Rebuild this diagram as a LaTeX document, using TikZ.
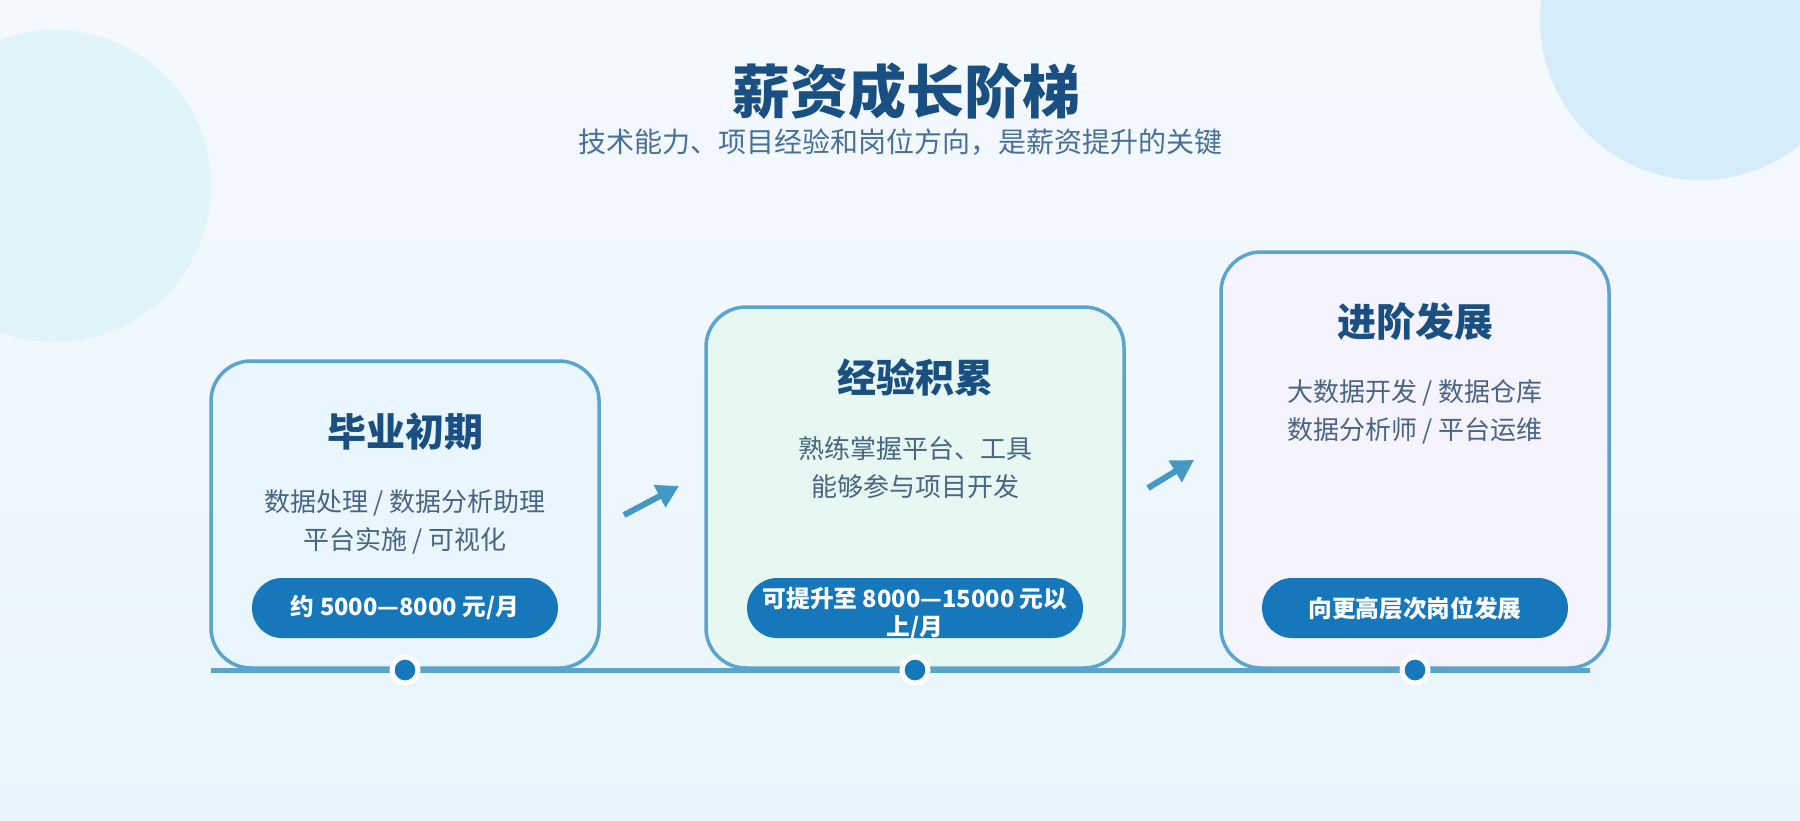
\documentclass[tikz,border=0pt]{standalone}
\usepackage{fontspec}
\setmainfont{Noto Sans CJK SC}
\usetikzlibrary{arrows.meta}
\definecolor{bgA}{HTML}{F5F9FE}
\definecolor{bgB}{HTML}{E9F5FC}
\definecolor{circA}{HTML}{E0F4FA}
\definecolor{circB}{HTML}{D6EDF9}
\definecolor{borderC}{HTML}{5BA4CB}
\definecolor{titleC}{HTML}{1A4F82}
\definecolor{descC}{HTML}{4A6483}
\definecolor{subC}{HTML}{46709A}
\definecolor{pillC}{HTML}{1677BA}
\definecolor{arrowC}{HTML}{4399C6}
\definecolor{fillA}{HTML}{EAF6FD}
\definecolor{fillB}{HTML}{E6F8F1}
\definecolor{fillC}{HTML}{F5F3FD}
\tikzset{
  card/.style={draw=borderC, line width=3.5pt, rounded corners=40pt, inner sep=0pt},
  cardtitle/.style={text=titleC, font=\fontsize{39}{45}\selectfont\bfseries, inner sep=0pt},
  desc/.style={text=descC, font=\fontsize{26}{38}\selectfont, align=center, inner sep=0pt},
  pill/.style={fill=pillC, rounded corners=30pt, minimum height=60pt, inner sep=0pt},
  pilltext/.style={text=white, font=\fontsize{23.7}{28}\selectfont\bfseries, align=center, inner sep=0pt},
  dot/.style={circle, fill=pillC, draw=white, line width=5pt, minimum size=26pt, inner sep=0pt},
  steparrow/.style={draw=arrowC, line width=6pt, -{Triangle[length=22pt,width=24pt]}},
}
\begin{document}
\begin{tikzpicture}[x=1pt,y=-1pt]
\useasboundingbox (0,0) rectangle (1800,820);
\shade[top color=bgA, bottom color=bgB] (0,0) rectangle (1800,820);
\fill[circA] (55,186) circle (156);
\fill[circB] (1700,20) circle (160);

% header
\node[text=titleC, font=\fontsize{58}{66}\selectfont\bfseries, inner sep=0pt] (title) at (906,91) {薪资成长阶梯};
\node[text=subC, font=\fontsize{28}{33}\selectfont, inner sep=0pt] (subtitle) at (900,142) {技术能力、项目经验和岗位方向，是薪资提升的关键};

% cards
\node[card, fill=fillA, minimum width=388pt, minimum height=307pt] (c1) at (405,514.5) {};
\node[card, fill=fillB, minimum width=418pt, minimum height=361pt] (c2) at (915,487.5) {};
\node[card, fill=fillC, minimum width=388pt, minimum height=416pt] (c3) at (1415,460) {};

% card 1
\node[cardtitle] (t1) at (405,432) {毕业初期};
\node[desc] (d1) at (405,522) {数据处理 / 数据分析助理\\平台实施 / 可视化};
\node[pill, minimum width=306pt] (p1) at (405,608) {};
\node[pilltext] (pt1) at (405,608) {约 5000—8000 元/月};

% card 2
\node[cardtitle] (t2) at (915,377) {经验积累};
\node[desc] (d2) at (915,468) {熟练掌握平台、工具\\能够参与项目开发};
\node[pill, minimum width=336pt] (p2) at (915,608) {};
\begin{scope}
\clip[rounded corners=30pt] (p2.south west) rectangle (p2.north east);
\node[pilltext] (pt2) at (915,614) {可提升至 8000—15000 元以\\上/月};
\end{scope}

% card 3
\node[cardtitle] (t3) at (1415,322) {进阶发展};
\node[desc] (d3) at (1415,412) {大数据开发 / 数据仓库\\数据分析师 / 平台运维};
\node[pill, minimum width=306pt] (p3) at (1415,608) {};
\node[pilltext] (pt3) at (1415,608) {向更高层次岗位发展};

% timeline
\coordinate (tl0) at (211,670);
\coordinate (tl1) at (1590,670);
\draw[borderC, line width=5pt] (tl0) -- (tl1);
\node[dot] (k1) at (405,670) {};
\node[dot] (k2) at (915,670) {};
\node[dot] (k3) at (1415,670) {};

% arrows
\coordinate (a1s) at (624,515);
\coordinate (a1e) at (679,486);
\coordinate (a2s) at (1148,488);
\coordinate (a2e) at (1194,460);
\draw[steparrow] (a1s) -- (a1e);
\draw[steparrow] (a2s) -- (a2e);
\end{tikzpicture}
\end{document}
